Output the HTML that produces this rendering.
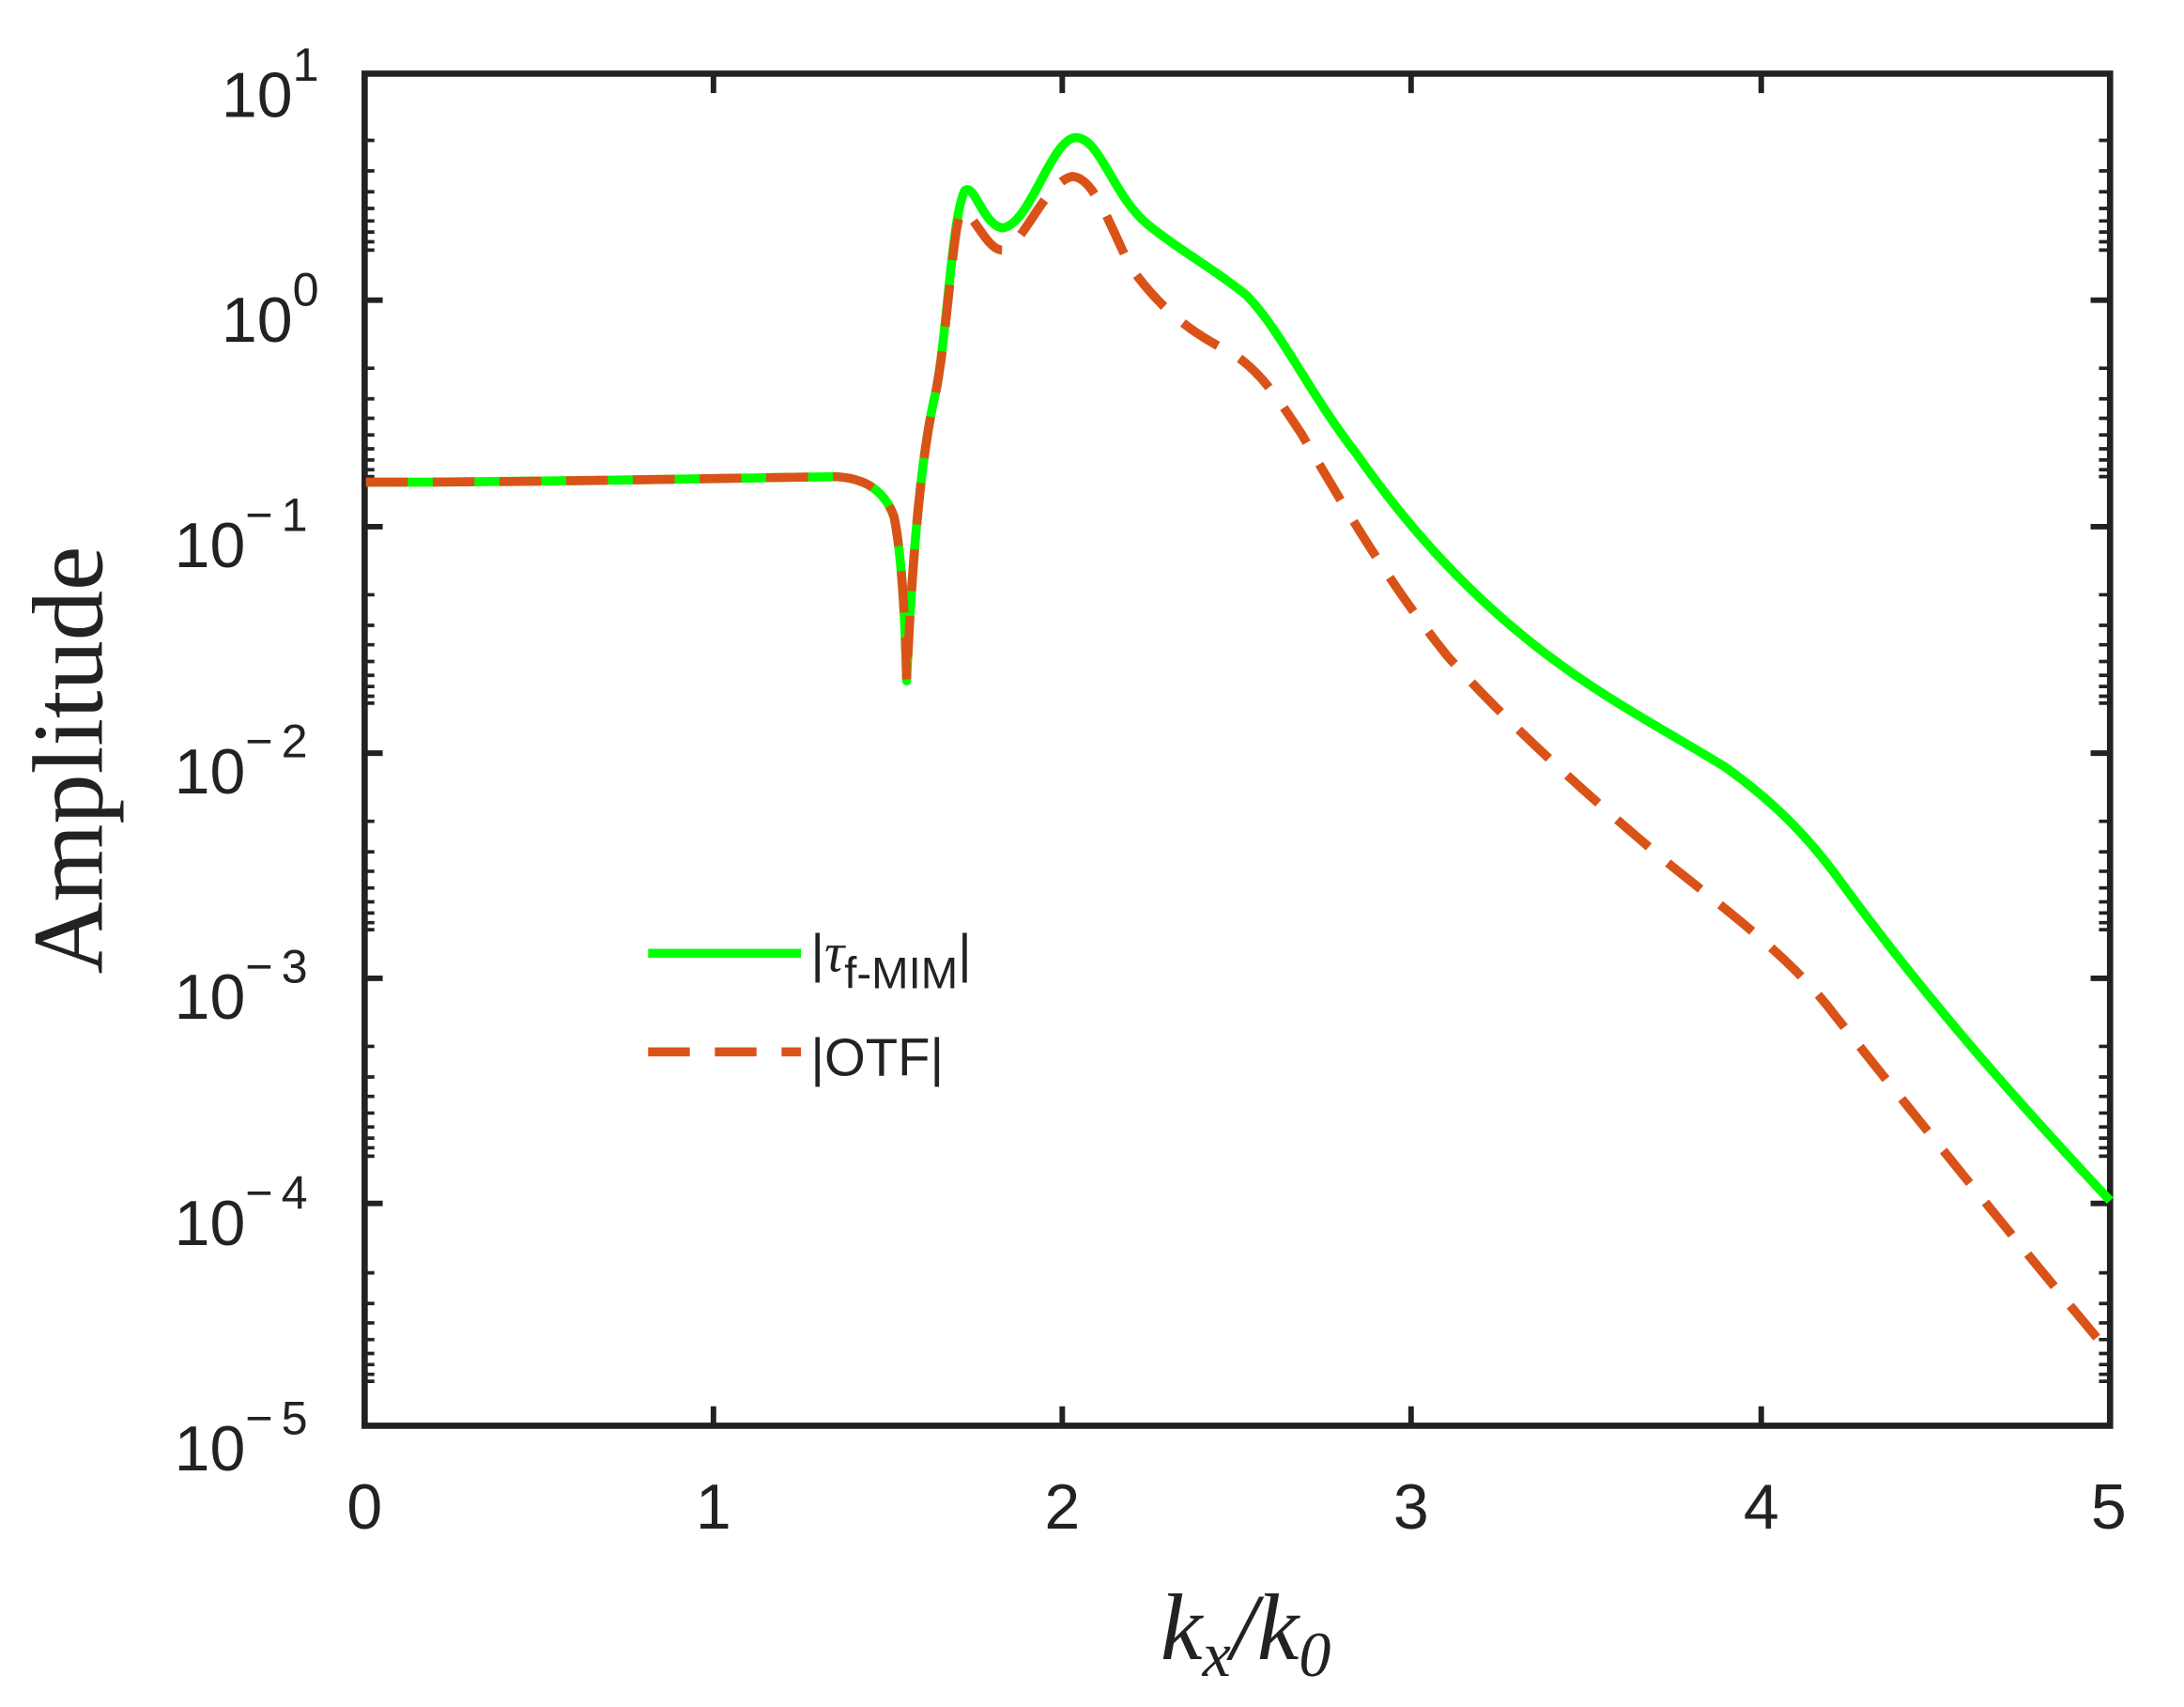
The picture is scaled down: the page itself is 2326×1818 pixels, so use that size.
<!DOCTYPE html>
<html><head><meta charset="utf-8"><style>
html,body{margin:0;padding:0;background:#fff}
svg{display:block}
text{font-family:"Liberation Sans",Arial,sans-serif;fill:#222}
</style></head><body>
<svg width="2326" height="1818" viewBox="-1.4 -2 1571.6 1228.4" preserveAspectRatio="none" xmlns="http://www.w3.org/2000/svg">
<rect x="-5" y="-5" width="1600" height="1250" fill="#fff"/>
<g stroke="#222" stroke-width="2.5" fill="none">
<path d="
M262 99h6 M262 121h6 M262 136h6 M262 148h6 M262 157h6 M262 165h6 M262 172h6 M262 178h6
M262 263h6 M262 285h6 M262 299h6 M262 311h6 M262 321h6 M262 329h6 M262 336h6 M262 341h6
M262 426h6 M262 448h6 M262 462h6 M262 474h6 M262 484h6 M262 492h6 M262 499h6 M262 504h6
M262 589h6 M262 611h6 M262 625h6 M262 637h6 M262 647h6 M262 655h6 M262 662h6 M262 667h6
M262 751h6 M262 773h6 M262 787h6 M262 799h6 M262 809h6 M262 817h6 M262 824h6 M262 830h6
M262 914h6 M262 936h6 M262 950h6 M262 962h6 M262 972h6 M262 980h6 M262 987h6 M262 992h6
M1515 99h-6 M1515 121h-6 M1515 136h-6 M1515 148h-6 M1515 157h-6 M1515 165h-6 M1515 172h-6 M1515 178h-6
M1515 263h-6 M1515 285h-6 M1515 299h-6 M1515 311h-6 M1515 321h-6 M1515 329h-6 M1515 336h-6 M1515 341h-6
M1515 426h-6 M1515 448h-6 M1515 462h-6 M1515 474h-6 M1515 484h-6 M1515 492h-6 M1515 499h-6 M1515 504h-6
M1515 589h-6 M1515 611h-6 M1515 625h-6 M1515 637h-6 M1515 647h-6 M1515 655h-6 M1515 662h-6 M1515 667h-6
M1515 751h-6 M1515 773h-6 M1515 787h-6 M1515 799h-6 M1515 809h-6 M1515 817h-6 M1515 824h-6 M1515 830h-6
M1515 914h-6 M1515 936h-6 M1515 950h-6 M1515 962h-6 M1515 972h-6 M1515 980h-6 M1515 987h-6 M1515 992h-6"/>
</g>
<g stroke="#222" stroke-width="4" fill="none">
<path d="M262 214h12 M262 377h12 M262 540h12 M262 702h12 M262 864h12
M1515 214h-12 M1515 377h-12 M1515 540h-12 M1515 702h-12 M1515 864h-12
M512 1023v-13 M763 1023v-13 M1014 1023v-13 M1266 1023v-13
M512 52v13 M763 52v13 M1014 52v13 M1266 52v13"/>
<rect x="261" y="51" width="1256" height="973" stroke-width="4.5"/>
</g>
<path fill="none" stroke="#00ff00" stroke-width="6.5" stroke-linejoin="round" d="M262 345 C 400 345, 520 342, 600 341 C 620 342, 635 350, 642 370 C 647 395, 650 440, 651 488 C 654 420, 660 330, 672 280 C 680 240, 684 150, 693 135 C 700 130, 706 160, 720 162 C 740 160, 755 97, 773 97 C 790 97, 800 140, 825 160 C 850 180, 870 190, 895 210 C 920 235, 940 280, 975 325 C 1010 375, 1050 420, 1100 460 C 1150 500, 1200 525, 1240 550 C 1275 575, 1300 600, 1325 635 C 1380 710, 1440 780, 1517 862"/>
<path fill="none" stroke="#d95319" stroke-width="6.5" stroke-dasharray="30,18" d="M262 345 C 400 345, 520 342, 600 341 C 620 342, 635 350, 642 370 C 647 395, 650 440, 651 488 C 654 420, 660 330, 672 280 C 680 240, 684 165, 690 150 C 698 148, 708 178, 720 178 C 735 175, 750 130, 770 125 C 785 125, 795 155, 812 190 C 830 215, 850 235, 885 252 C 905 265, 915 280, 935 310 C 970 370, 1000 420, 1040 470 C 1080 515, 1140 570, 1200 620 C 1250 660, 1290 690, 1320 730 C 1380 805, 1440 880, 1517 972"/>
<path d="M465 684h110" stroke="#00ff00" stroke-width="6.5"/>
<path d="M465 755h110" stroke="#d95319" stroke-width="6.5" stroke-dasharray="30,18"/>
<text x="582" y="697" font-size="38">|<tspan font-family="Liberation Serif" font-style="italic" font-size="40">τ</tspan><tspan font-size="32" dy="12">f-MIM</tspan><tspan dy="-12">|</tspan></text>
<text x="582" y="772" font-size="38">|OTF|</text>
<g font-size="46" text-anchor="start">
<text x="158" y="82">10<tspan font-size="34" dy="-26">1</tspan></text>
<text x="158" y="244">10<tspan font-size="34" dy="-26">0</tspan></text>
<text x="124" y="406">10<tspan font-size="34" dy="-26" letter-spacing="6">−1</tspan></text>
<text x="124" y="569">10<tspan font-size="34" dy="-26" letter-spacing="6">−2</tspan></text>
<text x="124" y="731">10<tspan font-size="34" dy="-26" letter-spacing="6">−3</tspan></text>
<text x="124" y="894">10<tspan font-size="34" dy="-26" letter-spacing="6">−4</tspan></text>
<text x="124" y="1056">10<tspan font-size="34" dy="-26" letter-spacing="6">−5</tspan></text>
</g>
<g font-size="46" text-anchor="middle">
<text x="261" y="1098">0</text><text x="512" y="1098">1</text><text x="763" y="1098">2</text>
<text x="1014" y="1098">3</text><text x="1266" y="1098">4</text><text x="1516" y="1098">5</text>
</g>
<text transform="translate(72,545) rotate(-90)" text-anchor="middle" font-size="72" style="font-family:'Liberation Serif',serif">Amplitude</text>
<text x="895" y="1192" text-anchor="middle" font-size="68" font-style="italic" style="font-family:'Liberation Serif',serif">k<tspan font-size="46" dy="12">x</tspan><tspan dy="-12">/k</tspan><tspan font-size="46" dy="12">0</tspan></text>
</svg>
</body></html>
